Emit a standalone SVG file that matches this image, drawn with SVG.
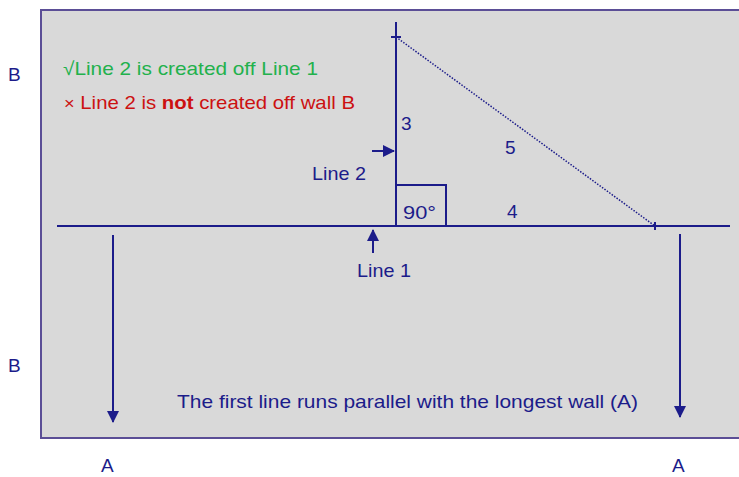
<svg xmlns="http://www.w3.org/2000/svg" width="739" height="477" viewBox="0 0 739 477">
<defs>
<style>
text{font-family:"Liberation Sans","DejaVu Sans",sans-serif;font-size:19px}
.b{fill:#1c1c8a}
.g{fill:#22b14c}
.r{fill:#cc1111}
.ln{stroke:#1c1c8a;stroke-width:2;fill:none}
</style>
<marker id="ah" markerWidth="12" markerHeight="12" refX="11" refY="6" orient="auto" markerUnits="userSpaceOnUse">
<path d="M0,0 L12,6 L0,12 Z" fill="#1c1c8a"/>
</marker>
</defs>
<rect width="739" height="477" fill="#ffffff"/>
<rect id="room" x="41" y="10" width="720" height="428" fill="#d9d9d9" stroke="#5b4e96" stroke-width="2"/>
<g id="connectors">
<line class="ln" x1="57" y1="226" x2="730" y2="226"/>
<line class="ln" x1="396" y1="22" x2="396" y2="226"/>
<line class="ln" x1="391" y1="37" x2="401" y2="37" stroke-width="1.5"/>
<line x1="396" y1="37" x2="655" y2="226" stroke="#1c1c8a" stroke-width="1.5" stroke-dasharray="1.5,1.5"/>
<line class="ln" x1="655" y1="222" x2="655" y2="230" stroke-width="1.5"/>
<rect id="right-angle" class="ln" x="396" y="185" width="50" height="41"/>
<line class="ln" x1="372" y1="151" x2="394" y2="151" marker-end="url(#ah)"/>
<line class="ln" x1="373" y1="253" x2="373" y2="230" marker-end="url(#ah)"/>
<line class="ln" x1="113" y1="235" x2="113" y2="422" marker-end="url(#ah)"/>
<line class="ln" x1="680" y1="234" x2="680" y2="417" marker-end="url(#ah)"/>
</g>
<g id="labels">
<text class="b" x="8" y="81">B</text>
<text class="b" x="8" y="372">B</text>
<text class="b" x="101" y="472">A</text>
<text class="b" x="672" y="472">A</text>
<text class="g" x="63" y="75" textLength="255" lengthAdjust="spacingAndGlyphs">√Line 2 is created off Line 1</text>
<text class="r" x="64" y="109" textLength="291" lengthAdjust="spacingAndGlyphs"><tspan font-size="17">×</tspan> Line 2 is <tspan font-weight="bold">not</tspan> created off wall B</text>
<text class="b" x="312" y="180" textLength="54" lengthAdjust="spacingAndGlyphs">Line 2</text>
<text class="b" x="401" y="130">3</text>
<text class="b" x="505" y="154">5</text>
<text class="b" x="507" y="218">4</text>
<text class="b" x="403" y="219" textLength="33" lengthAdjust="spacingAndGlyphs">90°</text>
<text class="b" x="357" y="277" textLength="54" lengthAdjust="spacingAndGlyphs">Line 1</text>
<text class="b" x="177" y="408" textLength="461" lengthAdjust="spacingAndGlyphs">The first line runs parallel with the longest wall (A)</text>
</g>
</svg>
